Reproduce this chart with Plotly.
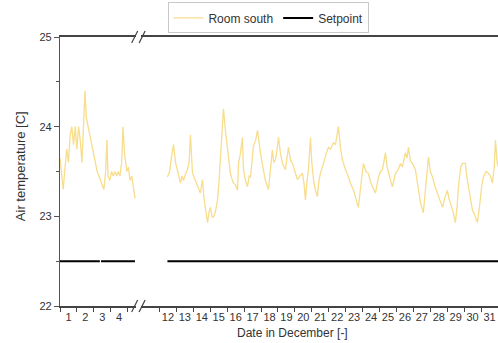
import plotly.graph_objects as go

# ---- data ----
left_days = [1.00, 1.12, 1.19, 1.30, 1.40, 1.50, 1.60, 1.70, 1.80, 1.90, 2.00, 2.10, 2.20, 2.30, 2.40,
             2.48, 2.56, 2.66, 2.78, 2.89, 3.00, 3.10, 3.20, 3.30, 3.40, 3.50, 3.60, 3.70, 3.78, 3.84,
             3.95, 4.05, 4.15, 4.25, 4.35, 4.45, 4.55, 4.65, 4.73, 4.82, 4.96, 5.05, 5.14, 5.25, 5.35, 5.44]
left_temp = [23.65, 23.45, 23.30, 23.55, 23.75, 23.60, 23.90, 24.00, 23.80, 24.00, 23.75, 24.00, 23.85, 23.60, 24.10,
             24.40, 24.10, 24.00, 23.90, 23.80, 23.70, 23.60, 23.50, 23.45, 23.40, 23.35, 23.30, 23.50, 23.85, 23.45,
             23.40, 23.50, 23.45, 23.50, 23.45, 23.50, 23.45, 23.60, 24.00, 23.70, 23.50, 23.55, 23.40, 23.45, 23.30, 23.20]

right_days = [12.47, 12.60, 12.70, 12.83, 12.95, 13.06, 13.15, 13.24, 13.33, 13.42, 13.55, 13.65, 13.75, 13.83, 13.95,
              14.10, 14.24, 14.33, 14.42, 14.54, 14.63, 14.72, 14.84, 14.93, 15.01, 15.10, 15.19, 15.30, 15.43, 15.52,
              15.60, 15.70, 15.78, 15.90, 16.02, 16.10, 16.19, 16.28, 16.37, 16.50, 16.61, 16.67, 16.78, 16.90, 16.96,
              17.08, 17.20, 17.30, 17.38, 17.55, 17.68, 17.79, 17.90, 17.97, 18.14, 18.26, 18.44, 18.55, 18.67, 18.75,
              18.85, 18.95, 19.03, 19.15, 19.27, 19.44, 19.55, 19.62, 19.75, 19.86, 20.00, 20.15, 20.30, 20.45, 20.55,
              20.62, 20.72, 20.80, 20.92, 21.00, 21.10, 21.20, 21.33, 21.42, 21.51, 21.60, 21.69, 21.85, 21.98, 22.10,
              22.28, 22.40, 22.57, 22.70, 22.81, 22.99, 23.15, 23.28, 23.46, 23.60, 23.75, 23.90, 24.05, 24.20, 24.34,
              24.45, 24.58, 24.76, 24.94, 25.05, 25.17, 25.25, 25.35, 25.45, 25.53, 25.65, 25.76, 25.94, 26.10, 26.24,
              26.35, 26.53, 26.62, 26.71, 26.82, 26.94, 27.12, 27.25, 27.42, 27.59, 27.75, 27.89, 28.00, 28.13, 28.25,
              28.42, 28.55, 28.72, 28.85, 29.01, 29.10, 29.19, 29.35, 29.48, 29.58, 29.66, 29.80, 29.90, 30.07, 30.15,
              30.25, 30.40, 30.49, 30.65, 30.78, 30.90, 30.96, 31.05, 31.14, 31.30, 31.43, 31.55, 31.67, 31.78, 31.85,
              31.95, 32.02]
right_temp = [23.44, 23.50, 23.65, 23.80, 23.60, 23.52, 23.45, 23.37, 23.45, 23.40, 23.48, 23.52, 23.60, 23.91, 23.48,
              23.40, 23.33, 23.30, 23.26, 23.41, 23.20, 23.07, 22.93, 23.05, 23.10, 23.00, 22.99, 23.05, 23.18, 23.40,
              23.63, 23.95, 24.20, 23.95, 23.77, 23.60, 23.48, 23.42, 23.37, 23.35, 23.29, 23.59, 23.70, 23.88, 23.52,
              23.40, 23.33, 23.45, 23.44, 23.78, 23.85, 23.96, 23.80, 23.70, 23.52, 23.40, 23.30, 23.50, 23.74, 23.60,
              23.63, 23.75, 23.88, 23.70, 23.59, 23.52, 23.65, 23.77, 23.62, 23.59, 23.50, 23.41, 23.45, 23.48, 23.35,
              23.18, 23.40, 23.52, 23.88, 23.60, 23.41, 23.30, 23.22, 23.40, 23.48, 23.55, 23.59, 23.70, 23.77, 23.75,
              23.82, 23.80, 24.00, 23.75, 23.63, 23.52, 23.45, 23.37, 23.29, 23.20, 23.10, 23.35, 23.59, 23.50, 23.48,
              23.40, 23.33, 23.26, 23.44, 23.50, 23.52, 23.60, 23.71, 23.55, 23.48, 23.40, 23.33, 23.48, 23.52, 23.59,
              23.55, 23.71, 23.65, 23.77, 23.62, 23.59, 23.52, 23.35, 23.15, 23.04, 23.40, 23.66, 23.50, 23.44, 23.35,
              23.26, 23.20, 23.10, 23.20, 23.29, 23.20, 23.15, 23.05, 22.93, 23.10, 23.33, 23.55, 23.59, 23.59, 23.45,
              23.33, 23.15, 23.07, 23.00, 22.93, 23.10, 23.22, 23.35, 23.44, 23.50, 23.48, 23.45, 23.37, 23.55, 23.85,
              23.60, 23.55]

setpoint_left_days = [1.0, 3.36, None, 3.43, 5.44]
setpoint_left = [22.5, 22.5, None, 22.5, 22.5]
setpoint_right_days = [12.47, 32.1]
setpoint_right = [22.5, 22.5]

left_labels = ["1", "2", "3", "4"]
right_labels = [str(d) for d in range(12, 32)]

yellow = "rgb(247,221,140)"
FONT = "Liberation Sans, Arial, sans-serif"
TXT = "#333333"

fig = go.Figure()
fig.add_trace(go.Scatter(x=left_days, y=left_temp, mode="lines", name="Room south",
                         line=dict(color=yellow, width=1.3), xaxis="x", yaxis="y", legendgroup="r"))
fig.add_trace(go.Scatter(x=right_days, y=right_temp, mode="lines", name="Room south", showlegend=False,
                         line=dict(color=yellow, width=1.3), xaxis="x2", yaxis="y", legendgroup="r"))
fig.add_trace(go.Scatter(x=setpoint_left_days, y=setpoint_left, mode="lines", name="Setpoint",
                         line=dict(color="black", width=2), xaxis="x", yaxis="y", connectgaps=False))
fig.add_trace(go.Scatter(x=setpoint_right_days, y=setpoint_right, mode="lines", name="Setpoint", showlegend=False,
                         line=dict(color="black", width=2), xaxis="x2", yaxis="y"))

axis_common = dict(showgrid=False, zeroline=False, showline=True, mirror=True,
                   linecolor="#444444", linewidth=1.5, ticks="", ticklen=0,
                   tickfont=dict(size=11, color=TXT, family=FONT), ticklabelstandoff=0)

fig.update_layout(
    width=498, height=343,
    margin=dict(l=60, r=0, t=37, b=37),
    paper_bgcolor="white", plot_bgcolor="white",
    font=dict(family=FONT, color=TXT),
    xaxis=dict(domain=[0, 0.1735], range=[1, 5.5], anchor="y",
               tickmode="array", tickvals=[1.5, 2.5, 3.5, 4.5], ticktext=left_labels,
               minor=dict(tickmode="array", tickvals=[1, 2, 3, 4, 5], ticks="outside",
                          ticklen=4, tickcolor="#444444", tickwidth=1),
               **axis_common),
    xaxis2=dict(domain=[0.185, 1], range=[10.91, 32], anchor="y",
                tickmode="array", tickvals=[d + 0.5 for d in range(12, 32)], ticktext=right_labels,
                minor=dict(tickmode="array", tickvals=list(range(12, 33)), ticks="outside",
                           ticklen=4, tickcolor="#444444", tickwidth=1),
                **axis_common),
    yaxis=dict(domain=[0, 1], range=[22, 25], anchor="x", tickmode="array",
               tickvals=[22, 23, 24, 25], ticks="outside", ticklen=5, tickcolor="#555555",
               minor=dict(tickmode="array", tickvals=[22.5, 23.5, 24.5], ticks="outside",
                          ticklen=3, tickcolor="#555555"),
               showline=True, linecolor="#555555", linewidth=1.2, showgrid=False, zeroline=False,
               tickfont=dict(size=11, color=TXT, family=FONT)),
    legend=dict(orientation="h", x=0.477, xanchor="center", y=1.071, yanchor="middle",
                bordercolor="#c8c8c8", borderwidth=1, bgcolor="white",
                font=dict(size=12, color=TXT, family=FONT), itemwidth=30, tracegroupgap=0),
    showlegend=True,
)

# axis titles
fig.add_annotation(text="Date in December [-]", xref="paper", yref="paper", x=0.53, y=-0.1,
                   xanchor="center", yanchor="middle", showarrow=False,
                   font=dict(size=12, color=TXT, family=FONT))
fig.add_annotation(text="Air temperature [C]", xref="paper", yref="paper", x=-0.0913, y=0.52,
                   xanchor="center", yanchor="middle", textangle=-90, showarrow=False,
                   font=dict(size=13, color=TXT, family=FONT))

# break marks (//) on the top and bottom axis lines
for ypos in (0, 1):
    for xc in (0.1705, 0.1875):
        fig.add_shape(type="line", xref="paper", yref="paper",
                      xsizemode="pixel", ysizemode="pixel", xanchor=xc, yanchor=ypos,
                      x0=-3, x1=3, y0=-6, y1=6, line=dict(color="#444444", width=1.2))

fig.write_html("out.html")
